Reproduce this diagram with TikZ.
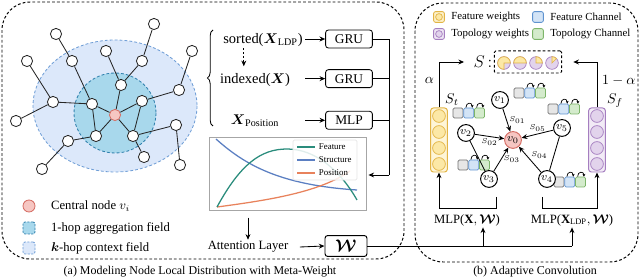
\documentclass[tikz,border=0pt]{standalone}
\usepackage{amsmath,amssymb}
\usepackage{fontspec}
\setmainfont{Liberation Serif}
\usepackage{tikz}
\usetikzlibrary{arrows.meta,positioning,calc,decorations.pathreplacing}

\definecolor{outerbl}{HTML}{DCE8FA}
\definecolor{outerbd}{HTML}{6F9ED6}
\definecolor{innerbl}{HTML}{A8D8EC}
\definecolor{innerbd}{HTML}{2F80AD}
\definecolor{ctrfill}{HTML}{F6C6C2}
\definecolor{ctrdraw}{HTML}{D66F66}
\definecolor{ylwfill}{HTML}{FCE8A6}
\definecolor{ylwdraw}{HTML}{E2B445}
\definecolor{purfill}{HTML}{E2D3EC}
\definecolor{purdraw}{HTML}{A57EC0}
\definecolor{chgray}{HTML}{E6E6E6}
\definecolor{chgrayd}{HTML}{707070}
\definecolor{chblue}{HTML}{D3E4F6}
\definecolor{chblued}{HTML}{5F93CF}
\definecolor{chgreen}{HTML}{D4EBCC}
\definecolor{chgreend}{HTML}{7DB56A}
\definecolor{featc}{HTML}{2A8C7C}
\definecolor{strc}{HTML}{5B7FC2}
\definecolor{posc}{HTML}{E8825C}

\tikzset{
  panel/.style={draw, dash pattern=on 2pt off 1.5pt, line width=0.7pt, rounded corners=0.7cm},
  gnode/.style={circle, draw=black!85, fill=white, line width=0.6pt, minimum size=0.28cm, inner sep=0pt},
  cnode/.style={gnode, draw=ctrdraw, fill=ctrfill},
  vnode/.style={circle, draw, line width=0.7pt, minimum size=0.42cm, inner sep=0pt, fill=white, font=\fontsize{8}{9}\selectfont},
  opbox/.style={draw, rounded corners=2pt, line width=0.6pt, minimum width=1.17cm, minimum height=0.45cm, inner sep=1pt, font=\fontsize{9.5}{11}\selectfont},
  midtxt/.style={font=\fontsize{10.3}{12}\selectfont, inner sep=1pt},
  lbl/.style={font=\fontsize{9}{11}\selectfont, inner sep=1pt},
  smalltxt/.style={font=\fontsize{7.7}{9}\selectfont, inner sep=1pt},
  elab/.style={font=\fontsize{5.5}{6}\selectfont, inner sep=0.5pt},
  arrow/.style={-{Stealth[length=4pt,width=3.5pt]}, line width=0.6pt},
  dasharrow/.style={arrow, dash pattern=on 1.5pt off 1.2pt},
  chsq/.style={draw, rounded corners=1pt, minimum size=0.25cm, inner sep=0pt, line width=0.5pt},
  loopar/.style={-{Stealth[length=2pt,width=2pt]}, line width=0.5pt},
  wicon/.style={draw, rounded corners=1.5pt, minimum size=0.27cm, inner sep=0pt, line width=0.6pt},
  fieldsq/.style={draw, rounded corners=1.5pt, minimum size=0.3cm, inner sep=0pt, line width=0.6pt, dash pattern=on 1.5pt off 1pt},
  colbox/.style={draw, rounded corners=2pt, minimum width=0.42cm, minimum height=1.6cm, line width=0.7pt},
  colcirc/.style={circle, draw, minimum size=0.32cm, inner sep=0pt, line width=0.5pt},
  curve/.style={line width=0.9pt}
}

\begin{document}
\begin{tikzpicture}[x=0.025cm, y=-0.025cm, font=\fontsize{8.5}{10}\selectfont]
  \useasboundingbox (0,0) rectangle (640,280);

  \draw[panel] (2,2) rectangle (404,259);
  \draw[panel] (415,3) rectangle (638,262);

  \draw[fill=outerbl, draw=outerbd, line width=0.6pt, dash pattern=on 2pt off 1.5pt] (115,106) ellipse [x radius=82, y radius=66];
  \draw[fill=innerbl, draw=innerbd, line width=0.6pt, dash pattern=on 2pt off 1.5pt] (115,113) ellipse [x radius=41, y radius=40];

  \node[cnode] (vi) at (115,115) {};
  \foreach \n/\x/\y in {a/56/34, b/27/61, c/72/61, d/106/51, e/154/24, f/142/61, g/192/51,
    h/121/85, i/179/90, j/53/102, k/92/104, l/142/101, m/16/121, n/96/136, o/133/136,
    p/176/125, q/68/141, r/42/169, s/144/157, t/180/165}
    \node[gnode] (\n) at (\x,\y) {};
  \foreach \u/\v in {a/c, b/j, c/k, d/h, e/f, f/h, g/i, i/l, h/vi, k/vi, l/vi, j/k, j/m,
    k/n, l/o, n/vi, o/vi, o/p, p/t, n/q, q/r, o/s}
    \draw[line width=0.6pt, black!85] (\u) -- (\v);

  \node[cnode, minimum size=0.3cm] (lg1) at (29,206) {};
  \node[fieldsq, fill=innerbl, draw=innerbd] (lg2) at (29,228) {};
  \node[fieldsq, fill=outerbl, draw=outerbd] (lg3) at (29,248) {};
  \node[lbl, right=0.35cm of lg1] {Central node $v_i$};
  \node[lbl, right=0.35cm of lg2] {1-hop aggregation field};
  \node[lbl, right=0.35cm of lg3] {$\boldsymbol{k}$-hop context field};

  \node[midtxt] (srt) at (263,40) {sorted($\boldsymbol{X}_{\text{LDP}}$)};
  \node[midtxt] (idx) at (255,80) {indexed($\boldsymbol{X}$)};
  \node[midtxt] (pos) at (255,121) {$\boldsymbol{X}_{\text{Position}}$};
  \draw[decorate, decoration={brace, amplitude=4pt}, line width=0.6pt] (213,126) -- (213,30);
  \draw[dasharrow] ([xshift=-0.48cm]srt.south) -- ++(0,-0.45cm);

  \node[opbox] (gru1) at (349,39) {GRU};
  \node[opbox, below=0.52cm of gru1] (gru2) {GRU};
  \node[opbox, below=0.57cm of gru2] (mlp) {MLP};
  \draw[arrow] ([xshift=-0.5cm]gru1.west) -- (gru1.west);
  \draw[arrow] ([xshift=-0.5cm]gru2.west) -- (gru2.west);
  \draw[arrow] ([xshift=-0.5cm]mlp.west) -- (mlp.west);

  \node[draw=black!35, line width=0.5pt, minimum width=3.93cm, minimum height=1.83cm, inner sep=0pt] (chart) at (287.5,173.5) {};
  \draw[curve, strc] (216,139) .. controls (245,165) and (280,185) .. (357,190);
  \draw[curve, posc] (217,207) .. controls (270,200) and (320,192) .. (350,171);
  \draw[curve, featc] (217,207) .. controls (240,165) and (260,149) .. (287,149) .. controls (315,149) and (340,170) .. (357,200);
  \node[fill=white, fill opacity=0.85, draw=black!10, rounded corners=1pt, minimum width=1.6cm, minimum height=1cm] (leg) at (325,160) {};
  \foreach \k/\y/\c/\t in {1/147/featc/Feature, 2/160/strc/Structure, 3/173/posc/Position} {
    \draw[curve, \c] (297,\y) -- (315,\y);
    \node[anchor=west, font=\fontsize{6.3}{7}\selectfont, inner sep=0.5pt] (leg\k) at (318,\y) {\t};
  }

  \coordinate (bus) at (389,175);
  \draw[line width=0.6pt] (gru1.east) -| (bus);
  \draw[line width=0.6pt] (gru2.east) -- (gru2.east -| bus);
  \draw[line width=0.6pt] (mlp.east) -- (mlp.east -| bus);
  \draw[arrow] (bus) -- ([xshift=0.05cm]bus -| chart.east);

  \node[lbl] (att) at (248,247) {Attention Layer};
  \node[draw, rounded corners=2pt, line width=0.7pt, minimum width=1.05cm, minimum height=0.52cm, font=\fontsize{12}{14}\selectfont] (w) at (346,246) {$\boldsymbol{\mathcal{W}}$};
  \draw[arrow] ([yshift=-0.18cm]chart.south -| att.north) -- (att.north);
  \draw[arrow] ([xshift=0.25cm]att.east) -- (w.west);

  \node[wicon, draw=ylwdraw, fill=ylwfill!60] (lw1) at (439,17) {};
  \node[circle, draw=ylwdraw, fill=ylwfill, minimum size=0.17cm, inner sep=0pt, line width=0.5pt] at (lw1) {};
  \node[wicon, draw=purdraw, fill=purfill!60] (lw2) at (439,34) {};
  \node[circle, draw=purdraw, fill=purfill, minimum size=0.17cm, inner sep=0pt, line width=0.5pt] at (lw2) {};
  \node[wicon, draw=chblued, fill=chblue] (lc1) at (538,17) {};
  \node[wicon, draw=chgreend, fill=chgreen] (lc2) at (538,34) {};
  \node[smalltxt, right=0.12cm of lw1] {Feature weights};
  \node[smalltxt, right=0.12cm of lw2] {Topology weights};
  \node[smalltxt, right=0.12cm of lc1] {Feature Channel};
  \node[smalltxt, right=0.12cm of lc2] {Topology Channel};

  \node[font=\fontsize{12}{14}\selectfont, inner sep=1pt] (s) at (483,62) {$S\,{:}$};
  \node[draw, dash pattern=on 2pt off 1.5pt, line width=0.7pt, rounded corners=1pt, minimum width=1.68cm, minimum height=0.55cm] (sbox) at (528,62) {};
  \foreach \k/\x/\a/\b in {1/504/0/270, 2/520/0/180, 3/536/0/90, 4/552/45/90} {
    \filldraw[fill=purfill, draw=purdraw, line width=0.5pt] (\x,63) circle [radius=4.5pt];
    \filldraw[fill=ylwfill, draw=ylwdraw, line width=0.5pt] (\x,63) -- ++(\a:4.5pt) arc [start angle=\a, end angle=\b, radius=4.5pt] -- cycle;
  }

  \node[colbox, draw=ylwdraw, fill=ylwfill!45] (st) at (439,140) {};
  \node[colbox, draw=purdraw, fill=purfill!45] (sf) at (597,140) {};
  \foreach \k/\y in {1/116, 2/132, 3/148, 4/164} {
    \node[colcirc, draw=ylwdraw, fill=ylwfill] (st\k) at (439,\y) {};
    \node[colcirc, draw=purdraw, fill=purfill] (sf\k) at (597,\y) {};
  }
  \node[font=\fontsize{10}{12}\selectfont] at (452,100) {$S_t$};
  \node[font=\fontsize{10}{12}\selectfont] at (615,101) {$S_f$};
  \draw[arrow] (st.north) |- node[pos=0.3, left, font=\fontsize{10}{12}\selectfont] {$\alpha$} ([xshift=-0.2cm]s.west);
  \draw[arrow] (sf.north) |- node[pos=0.3, right, font=\fontsize{10}{12}\selectfont] {$1-\alpha$} ([xshift=0.28cm]sbox.east);

  \foreach \k/\x/\y in {1/519/93, 2/553/109, 3/458/113, 4/463/165, 5/559/182} {
    \node[chsq, fill=chgray, draw=chgrayd] (cg\k) at (\x,\y) {};
    \node[chsq, fill=chblue, draw=chblued, right=0pt of cg\k] (cb\k) {};
    \node[chsq, fill=chgreen, draw=chgreend, right=0pt of cb\k] (cn\k) {};
    \draw[loopar] ([xshift=-2pt]cb\k.north) to[out=90, in=90, distance=4pt] ([xshift=2.5pt]cb\k.north);
    \draw[loopar] ([xshift=-2pt]cn\k.north) to[out=90, in=90, distance=4pt] ([xshift=2.5pt]cn\k.north);
  }

  \node[vnode, draw=ctrdraw, fill=ctrfill] (v0) at (513,140) {$v_0$};
  \node[vnode] (v1) at (500,100) {$v_1$};
  \node[vnode] (v2) at (466,133) {$v_2$};
  \node[vnode] (v3) at (489,179) {$v_3$};
  \node[vnode] (v4) at (547,179) {$v_4$};
  \node[vnode] (v5) at (562,128) {$v_5$};
  \draw[line width=0.6pt] (v2) -- (v3);
  \draw[line width=0.6pt] (v5) -- (v4);
  \draw[arrow] (v1) -- node[elab, pos=0.5, right=1pt] {$S_{01}$} (v0);
  \draw[arrow] (v2) -- node[elab, pos=0.5, below=1pt] {$S_{02}$} (v0);
  \draw[arrow] (v3) -- node[elab, pos=0.5, right=1pt] {$S_{03}$} (v0);
  \draw[arrow] (v4) -- node[elab, pos=0.5, above right=0pt] {$S_{04}$} (v0);
  \draw[arrow] (v5) -- node[elab, pos=0.5, above=1pt] {$S_{05}$} (v0);

  \node[lbl] (mlpa) at (467,220) {MLP($\mathbf{X},\boldsymbol{\mathcal{W}}$)};
  \node[lbl] (mlpb) at (572,220) {MLP($\mathbf{X}_{\text{LDP}},\boldsymbol{\mathcal{W}}$)};
  \coordinate (ba) at (496,197);
  \coordinate (bl) at (439,208);
  \coordinate (bb) at (542,197);
  \coordinate (br) at (597,208);
  \draw[arrow] (ba) |- (bl) -- (st.south);
  \draw[arrow] (bb) |- (br) -- (sf.south);

  \coordinate (wa) at ([xshift=0.4cm]mlpa.south |- w.east);
  \coordinate (wb) at (mlpb.south |- w.east);
  \draw[line width=0.6pt] (w.east) -- (wb);
  \draw[arrow] (wa) -- (wa |- mlpa.south);
  \draw[arrow] (wb) -- (mlpb.south);

  \node (capa) at (200,272) {(a) Modeling Node Local Distribution with Meta-Weight};
  \node (capb) at (535,272) {(b) Adaptive Convolution};
\end{tikzpicture}
\end{document}
